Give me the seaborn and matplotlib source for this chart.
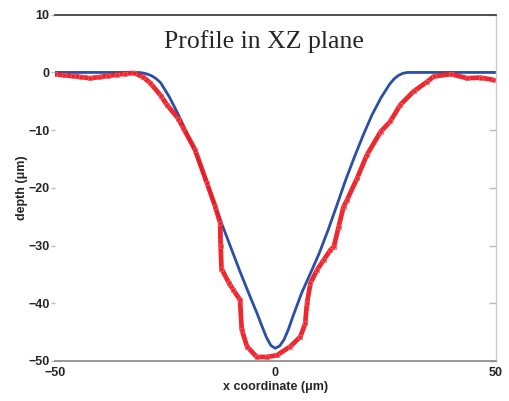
import matplotlib
matplotlib.use("Agg")
import matplotlib.pyplot as plt
import numpy as np
import pandas as pd
import seaborn as sns

# simulated profile (blue)
sim_x = [-50, -31, -30, -29, -28, -27, -26, -24, -22, -20, -18, -16, -14, -12, -10, -8, -6,
         -4, -3, -2, -1, 0,
         1, 2, 3, 4, 6, 8, 10, 12, 14, 16, 18, 20, 22, 24, 26, 27, 28, 29, 30, 50]
sim_z = [0, 0, -0.1, -0.3, -0.6, -1.1, -1.8, -4.3, -7.3, -10.6, -14.2, -18.2, -22.3, -26.5,
         -30.5, -34.5, -38.3, -42.0, -44.0, -45.9, -47.3, -47.8,
         -47.4, -46.3, -44.5, -42.3, -38.2, -34.8, -31.3, -27.3, -23.0, -18.6, -14.6,
         -10.8, -7.3, -4.4, -2.0, -1.1, -0.5, -0.15, 0, 0]

# measured profile (red)
meas_x = [-50, -48, -46, -44, -42, -40, -38, -36, -34, -32, -30, -28.4, -26, -24.6, -22,
          -20.9, -18.2, -15.5, -13.6, -12.5, -12.4, -12.2, -10.5, -9.5, -8, -7.6, -6.4,
          -4.2, -1.9, 0.4, 3.4, 5.7, 6.8, 7.2, 8, 9.5, 11, 12.5, 13.3, 14.4, 15.5, 16.3,
          18.6, 20.8, 23.9, 26.1, 28.4, 31.4, 34.5, 36, 39.8, 43.6, 46.6, 49.6]
meas_z = [-0.3, -0.5, -0.6, -0.8, -1.0, -0.8, -0.6, -0.4, -0.2, -0.1, -0.8, -1.8, -4.0,
          -5.6, -8.0, -9.6, -13.4, -19.2, -23.3, -26.1, -30.0, -34.0, -36.5, -37.7, -39.4,
          -44.6, -47.5, -49.3, -49.3, -49.0, -47.5, -45.8, -43.5, -40.0, -36.5, -34.2,
          -32.5, -30.8, -30.2, -26.7, -23.3, -22.1, -18.3, -14.3, -10.3, -8.5, -5.6, -3.3,
          -1.6, -0.7, -0.3, -1.0, -0.9, -1.3]

sim = pd.DataFrame({"x": sim_x, "z": sim_z})
meas = pd.DataFrame({"x": meas_x, "z": meas_z})

sns.set_style("white")
plt.rcParams["font.family"] = ["Liberation Sans", "DejaVu Sans"]

fig = plt.figure(figsize=(5.09, 4.01), dpi=100)
ax = fig.add_axes([0.108, 0.0998, 0.8655, 0.8635])

sns.lineplot(data=sim, x="x", y="z", ax=ax, color="#2b4fa6", linewidth=2, sort=False)
sns.lineplot(data=meas, x="x", y="z", ax=ax, color="#ec1c24", linewidth=3.4, sort=False,
             marker="s", markersize=3, markeredgecolor="#f05a5e", markerfacecolor="none",
             markeredgewidth=0.6, alpha=0.95)

ax.set_xlim(-50, 50)
ax.set_ylim(-50, 10)
ax.set_xticks([-50, 0, 50])
ax.set_yticks([10, 0, -10, -20, -30, -40, -50])

ax.spines["left"].set_visible(False)
ax.spines["top"].set_color("#333333")
ax.spines["top"].set_linewidth(1.2)
ax.spines["bottom"].set_color("#888888")
ax.spines["bottom"].set_linewidth(1.2)
ax.spines["right"].set_color("#cccccc")
ax.spines["right"].set_linewidth(1)

ax.tick_params(axis="x", length=0, pad=4, labelsize=9)
ax.tick_params(axis="y", left=True, right=True, direction="out", length=3, width=1,
               color="#bbbbbb", pad=1, labelsize=9)
for t in ax.yaxis.get_major_ticks():
    t.tick2line.set_marker(matplotlib.lines.TICKLEFT)
    t.tick2line.set_markersize(5)
    t.tick2line.set_color("#888888")
for lab in ax.get_xticklabels() + ax.get_yticklabels():
    lab.set_fontweight("bold")

ax.set_xlabel("x coordinate (μm)", fontsize=9, fontweight="bold", labelpad=2)
ax.set_ylabel("depth (μm)", fontsize=9, fontweight="bold", labelpad=0)

ax.text(0.475, 0.922, "Profile in XZ plane", transform=ax.transAxes, ha="center",
        va="center", fontsize=18.5, family="Liberation Serif")

fig.savefig("out.png", dpi=100)
